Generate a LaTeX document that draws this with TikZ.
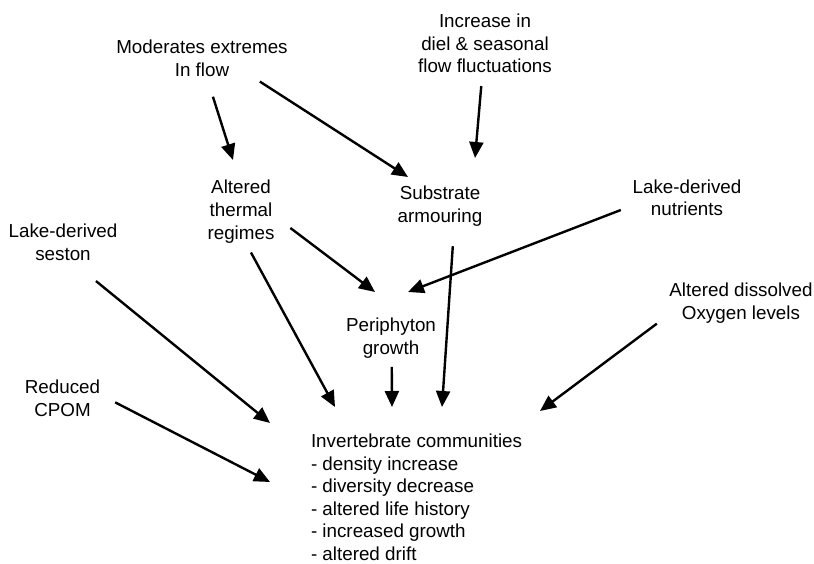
\documentclass[tikz,border=0pt]{standalone}
\usepackage{fontspec}
\setmainfont{Liberation Sans}
\usetikzlibrary{arrows.meta}

\tikzset{
  label/.style={align=center, inner sep=0pt, outer sep=0pt, font=\fontsize{18.8}{22.8}\selectfont},
  arr/.style={line width=2.4pt, -{Triangle[length=16pt,width=14pt]}}
}

\begin{document}
\begin{tikzpicture}[x=1pt,y=-1pt]
		\useasboundingbox (0,0) rectangle (814,564);
		% causes
		\node[label] (mod) at (202,58.4) {Moderates extremes\\In flow};
		\node[label] (inc) at (485,43.4) {Increase in\\diel \& seasonal\\flow fluctuations};
		\node[label] (alt) at (241,211.8) {Altered\\thermal\\regimes};
		\node[label] (sub) at (440,206.4) {Substrate\\armouring};
		\node[label] (nut) at (687,197.8) {Lake-derived\\nutrients};
		\node[label] (ses) at (63,241.9) {Lake-derived\\seston};
		\node[label] (per) at (391,338.3) {Periphyton\\growth};
		\node[label] (oxy) at (741,302.9) {Altered dissolved\\Oxygen levels};
		\node[label] (cpom) at (62.5,397.9) {Reduced\\CPOM};
		% response
		\node[label, align=left, anchor=north west, font=\fontsize{18.8}{22.5}\selectfont] (inv) at (311,434) {Invertebrate communities\\- density increase\\- diversity decrease\\- altered life history\\- increased growth\\- altered drift};
		
		% arrow tips
		\coordinate (altin) at (233,160);
		\coordinate (subinA) at (408,177);
		\coordinate (subinB) at (475,158);
		\coordinate (perinA) at (375,292);
		\coordinate (perinB) at (408,292);
		\coordinate (invinA) at (270,423);
		\coordinate (invinB) at (270,482);
		\coordinate (invinC) at (335,407);
		\coordinate (invinD) at (392,407);
		\coordinate (invinE) at (442,407);
		\coordinate (invinF) at (540,411);
		
		\draw[arr, shorten <=21pt] (mod.-76.5) -- (altin);
		\draw[arr, shorten <=9pt] (mod.-20.1) -- (subinA);
		\draw[arr, shorten <=13pt] (inc.-95.2) -- (subinB);
		\draw[arr, shorten <=20pt] (alt.-7.7) -- (perinA);
		\draw[arr, shorten <=12.7pt] (nut.188.7) -- (perinB);
		\draw[arr, shorten <=33pt] (ses.-68.8) -- (invinA);
		\draw[arr, shorten <=16.9pt] (cpom.5.5) -- (invinB);
		\draw[arr, shorten <=10.4pt] (alt.-81.7) -- (invinC);
		\draw[arr, shorten <=8.3pt] (per.-88) -- (invinD);
		\draw[arr, shorten <=19.7pt] (sub.-55.7) -- (invinE);
		\draw[arr, shorten <=15.7pt] (oxy.189.1) -- (invinF);
\end{tikzpicture}
\end{document}
